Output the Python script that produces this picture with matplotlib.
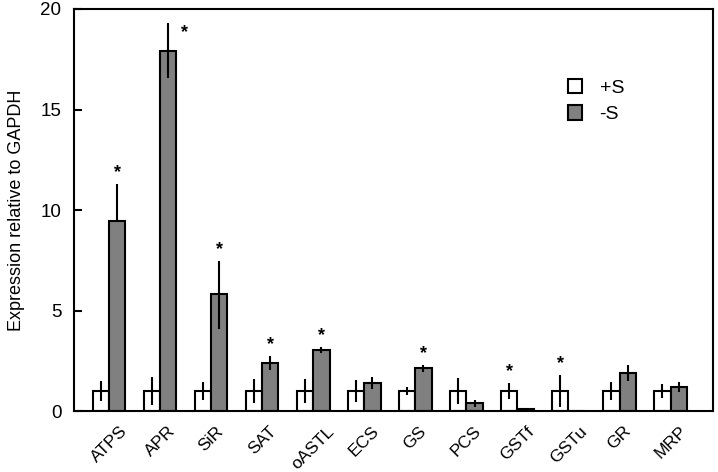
import matplotlib
matplotlib.use("Agg")
import matplotlib.pyplot as plt
from matplotlib.patches import Patch
import numpy as np

plt.rcParams['font.family'] = ['Liberation Sans', 'DejaVu Sans']

genes = ['ATPS', 'APR', 'SiR', 'SAT', 'oASTL', 'ECS', 'GS', 'PCS', 'GSTf', 'GSTu', 'GR', 'MRP']

plus_s = [1.0, 1.0, 1.0, 1.0, 1.0, 1.0, 1.0, 1.0, 1.0, 1.0, 1.0, 1.0]
plus_s_err = [0.5, 0.72, 0.45, 0.6, 0.6, 0.53, 0.18, 0.64, 0.38, 0.8, 0.46, 0.33]

minus_s = [9.45, 17.93, 5.8, 2.39, 3.03, 1.39, 2.12, 0.38, 0.12, 0.0, 1.89, 1.21]
minus_s_err_low = [0.0, 1.35, 1.7, 0.37, 0.16, 0.27, 0.16, 0.17, 0.0, 0.0, 0.4, 0.28]
minus_s_err_high = [1.85, 1.35, 1.65, 0.33, 0.14, 0.29, 0.17, 0.17, 0.0, 0.0, 0.4, 0.25]

sig_plus = [False, False, False, False, False, False, False, False, True, True, False, False]
sig_minus = [True, True, True, True, True, False, True, False, False, False, False, False]

fig = plt.figure(figsize=(7.18, 4.72), dpi=100)
ax = fig.add_axes([0.103, 0.129, 0.890, 0.852])

x = np.arange(len(genes))
w = 0.32
grey = '#808080'

ax.bar(x - w / 2, plus_s, w, color='white', edgecolor='black', linewidth=1.5, zorder=2)
ax.bar(x + w / 2, minus_s, w, color=grey, edgecolor='black', linewidth=1.5, zorder=2)

ax.errorbar(x - w / 2, plus_s, yerr=plus_s_err, fmt='none', ecolor='black',
            elinewidth=1.5, capsize=0, zorder=3)
ax.errorbar(x + w / 2, minus_s, yerr=[minus_s_err_low, minus_s_err_high], fmt='none',
            ecolor='black', elinewidth=1.5, capsize=0, zorder=3)

ymax = 20
for i in range(len(genes)):
    if sig_plus[i]:
        top = plus_s[i] + plus_s_err[i]
        ax.text(x[i] - w / 2, top + 0.15, '*', ha='center', va='bottom', fontsize=13,
                fontweight='bold')
    if sig_minus[i]:
        top = minus_s[i] + minus_s_err_high[i]
        if top + 0.8 > ymax:
            ax.text(x[i] + w / 2 + 0.32, top - 0.9, '*', ha='center', va='bottom',
                    fontsize=13, fontweight='bold')
        else:
            ax.text(x[i] + w / 2, top + 0.15, '*', ha='center', va='bottom', fontsize=13,
                    fontweight='bold')

ax.set_xlim(-0.686, 11.83)
ax.set_ylim(0, ymax)
ax.set_yticks([0, 5, 10, 15, 20])
ax.tick_params(axis='y', direction='in', length=6, width=1.5, labelsize=13.5, pad=9)
ax.set_xticks(x)
ax.set_xticklabels(genes, rotation=45, ha='center', va='top', fontsize=12.5)
ax.tick_params(axis='x', length=0, pad=9)
for s in ax.spines.values():
    s.set_linewidth(1.5)

ax.set_ylabel('Expression relative to GAPDH', fontsize=13, labelpad=11)

handles = [Patch(facecolor='white', edgecolor='black', linewidth=1.5, label='+S'),
           Patch(facecolor=grey, edgecolor='black', linewidth=1.5, label='-S')]
ax.legend(handles=handles, loc='upper left', bbox_to_anchor=(0.745, 0.87), frameon=False,
          fontsize=14, handlelength=0.75, handleheight=0.75, handletextpad=0.9,
          labelspacing=0.45)

fig.savefig('out.png', dpi=100)
